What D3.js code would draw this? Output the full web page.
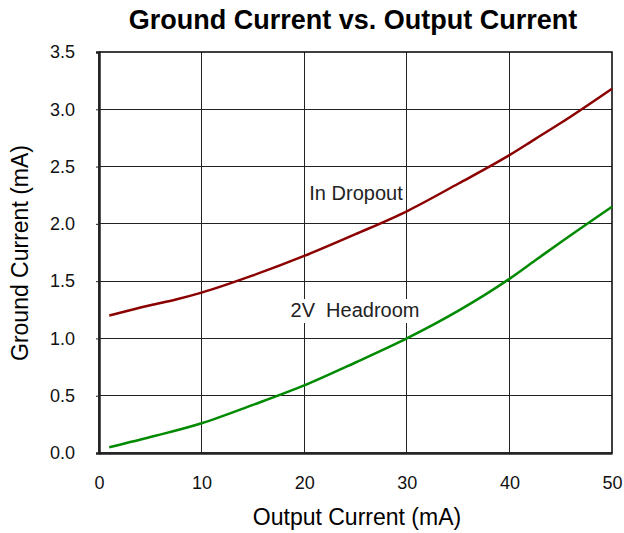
<!DOCTYPE html>
<html>
<head>
<meta charset="utf-8">
<script src="https://cdn.jsdelivr.net/npm/d3@7"></script>
<style>
body { margin: 0; background: #fff; }
text { font-family: "Liberation Sans", Arial, sans-serif; }
</style>
</head>
<body>
<svg id="chart" width="624" height="533"></svg>
<script>
// output current (mA) vs ground current (mA)
var dropoutX = [1, 5, 7.5, 10, 15, 20, 25, 30, 35, 40, 42.5, 45, 50];
var dropoutY = [1.20, 1.29, 1.34, 1.40, 1.55, 1.72, 1.91, 2.11, 2.35, 2.60, 2.74, 2.88, 3.18];
var headroomX = [1, 5.5, 10, 15, 20, 25, 30, 35, 40, 42.5, 45, 50];
var headroomY = [0.05, 0.15, 0.26, 0.42, 0.59, 0.79, 1.00, 1.24, 1.52, 1.68, 1.84, 2.15];
var xTicks = [0, 10, 20, 30, 40, 50];
var yTicks = [0, 0.5, 1.0, 1.5, 2.0, 2.5, 3.0, 3.5];

var svg = d3.select("#chart");
var margin = {top: 52, right: 12, bottom: 80, left: 99},
    width = 624 - margin.left - margin.right,
    height = 533 - margin.top - margin.bottom;

var x = d3.scaleLinear().domain([0, 50]).range([0, width]);
var y = d3.scaleLinear().domain([0, 3.5]).range([height, 0]);

var g = svg.append("g").attr("transform", "translate(" + margin.left + "," + margin.top + ")");

// grid
g.append("g").selectAll("line.vg")
  .data(xTicks.slice(1, -1))
  .enter().append("line")
  .attr("x1", function(d){ return x(d); }).attr("x2", function(d){ return x(d); })
  .attr("y1", 0).attr("y2", height)
  .attr("stroke", "#222").attr("stroke-width", 1).attr("shape-rendering", "crispEdges");
g.append("g").selectAll("line.hg")
  .data(yTicks.slice(1, -1))
  .enter().append("line")
  .attr("x1", 0).attr("x2", width)
  .attr("y1", function(d){ return y(d); }).attr("y2", function(d){ return y(d); })
  .attr("stroke", "#222").attr("stroke-width", 1).attr("shape-rendering", "crispEdges");

g.append("rect")
  .attr("width", width).attr("height", height)
  .attr("fill", "none").attr("stroke", "#000").attr("stroke-width", 1.5);

// axes
var xAxis = g.append("g")
  .attr("transform", "translate(0," + height + ")")
  .call(d3.axisBottom(x).tickValues(xTicks).tickSize(0).tickPadding(23).tickFormat(d3.format("d")));
var yAxis = g.append("g")
  .call(d3.axisLeft(y).tickValues(yTicks).tickSize(3).tickPadding(21).tickFormat(d3.format(".1f")));
[xAxis, yAxis].forEach(function(a){
  a.select(".domain").attr("stroke", "#222").attr("stroke-width", 2.5);
  a.selectAll("text").attr("font-size", "18px").attr("fill", "#111")
   .attr("font-family", "Liberation Sans, Arial, sans-serif");
  a.selectAll(".tick line").attr("stroke", "#222");
});

var line = d3.line()
  .x(function(d){ return x(d[0]); })
  .y(function(d){ return y(d[1]); })
  .curve(d3.curveMonotoneX);

g.append("path")
  .datum(d3.zip(dropoutX, dropoutY))
  .attr("d", line)
  .attr("fill", "none").attr("stroke", "#8b0000").attr("stroke-width", 2.5);
g.append("path")
  .datum(d3.zip(headroomX, headroomY))
  .attr("d", line)
  .attr("fill", "none").attr("stroke", "#008a00").attr("stroke-width", 2.5);

// labels
svg.append("rect").attr("x", 306).attr("y", 181).attr("width", 100).attr("height", 25).attr("fill", "#fff");
svg.append("text").attr("x", 356).attr("y", 200).attr("text-anchor", "middle")
  .attr("font-size", "20px").attr("fill", "#222").text("In Dropout");
svg.append("rect").attr("x", 287).attr("y", 299).attr("width", 137).attr("height", 24).attr("fill", "#fff");
svg.append("text").attr("x", 355).attr("y", 317).attr("text-anchor", "middle")
  .style("white-space", "pre")
  .attr("font-size", "20px").attr("fill", "#222").text("2V  Headroom");

svg.append("text").attr("x", 353).attr("y", 29).attr("text-anchor", "middle")
  .attr("font-size", "27px").attr("font-weight", "bold").text("Ground Current vs. Output Current");
svg.append("text").attr("x", 357).attr("y", 525).attr("text-anchor", "middle")
  .attr("font-size", "23px").text("Output Current (mA)");
svg.append("text").attr("transform", "translate(28,253) rotate(-90)").attr("text-anchor", "middle")
  .attr("font-size", "23px").text("Ground Current (mA)");
</script>
</body>
</html>
